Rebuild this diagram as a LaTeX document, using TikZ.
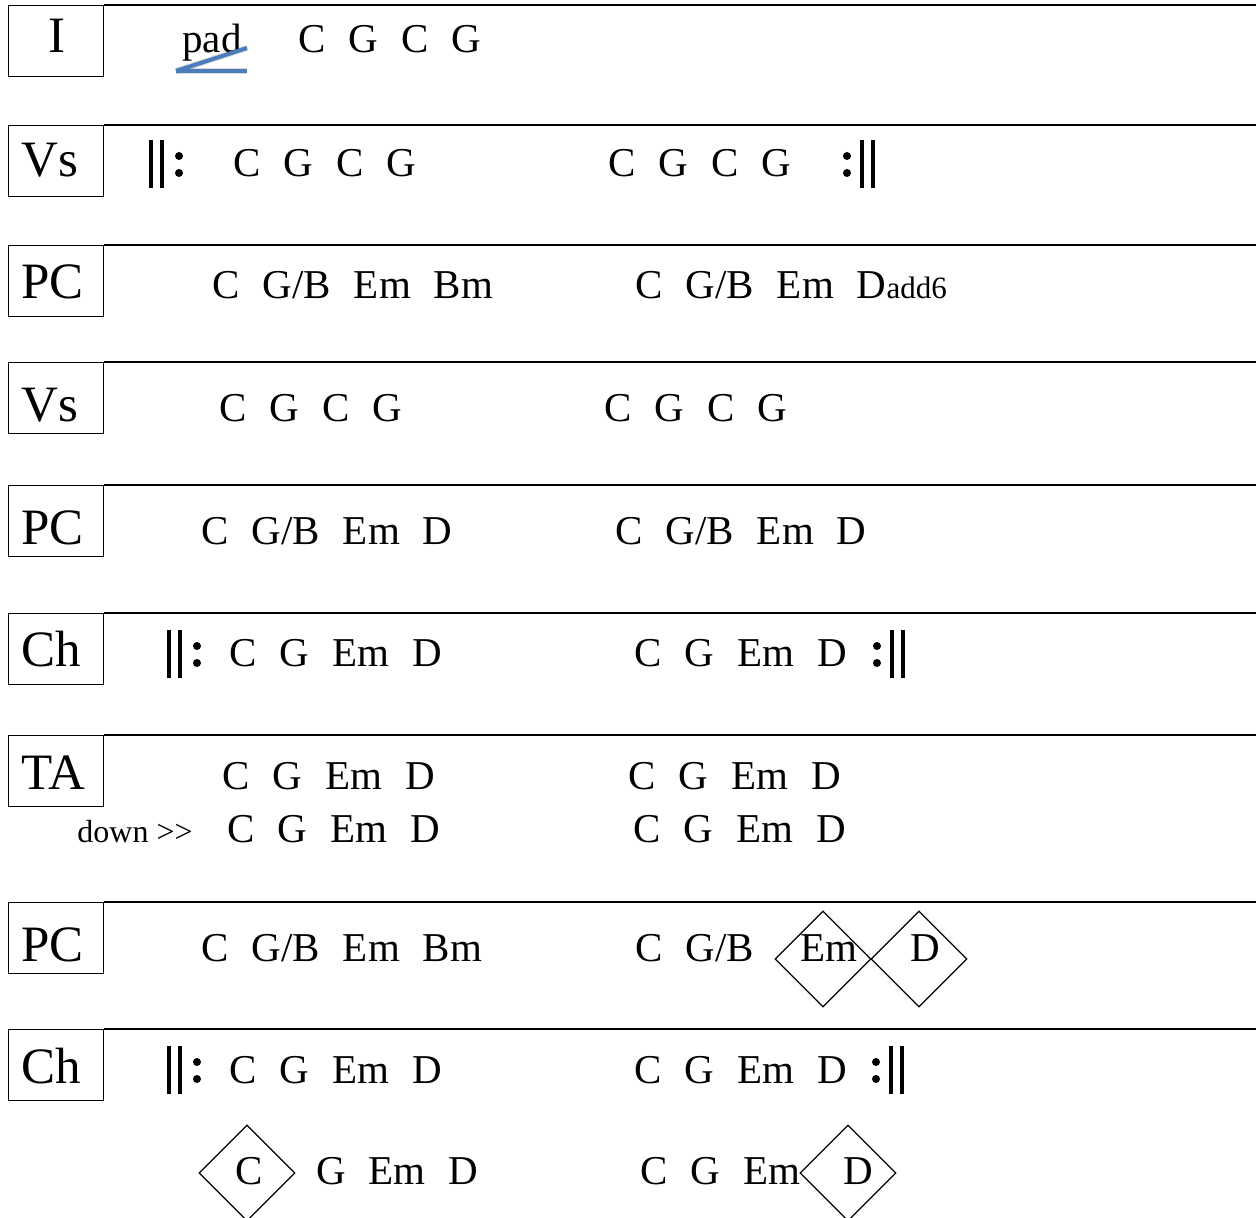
\documentclass[tikz,border=0pt]{standalone}
\usepackage{fontspec}
\setmainfont{Liberation Serif}
\usetikzlibrary{shapes.geometric}
\definecolor{padblue}{RGB}{74,126,187}

\begin{document}
\begin{tikzpicture}[x=0.5pt, y=-0.5pt]

        \def\gp{\hspace{0.56em}}

        % Looks of the section boxes, labels, chords and marks
        \tikzset{
            sect/.style={draw, line width=0.7pt, minimum width=47.5pt,
                minimum height=35.5pt, anchor=north west, inner sep=0pt},
            lab/.style={anchor=base west, inner sep=0pt,
                font=\fontsize{25.5pt}{30pt}\selectfont},
            chord/.style={anchor=base west, inner sep=0pt,
                font=\fontsize{20.5pt}{24pt}\selectfont},
            small/.style={anchor=base west, inner sep=0pt,
                font=\fontsize{16pt}{19pt}\selectfont},
            hit/.style={draw, diamond, line width=0.6pt, inner sep=0pt,
                minimum width=48pt, minimum height=48pt},
            rule/.style={line width=1pt},
            bar/.style={line width=1.8pt}
        }

        \useasboundingbox (0, 0) rectangle (1257, 1218);
        \clip (0, 0) rectangle (1257, 1218);

        % Section boxes, each with its rule to the right edge
        \foreach \name/\y in {I/5, Vs1/125, PC1/245, Vs2/362, PC2/485,
            Ch1/613, TA/735, PC3/902, Ch2/1029} {
            \node[sect] (\name) at (8, \y) {};
            \coordinate (\name-end) at (1256, \y);
            \draw[rule] (\name.north east) -- (\name-end);
        }

        % Section labels
        \node[lab] (lI) at (48, 53) {I};
        \node[lab] (lVs1) at (21, 177) {Vs};
        \node[lab] (lPC1) at (21, 299) {PC};
        \node[lab] (lVs2) at (21, 422) {Vs};
        \node[lab] (lPC2) at (21, 545) {PC};
        \node[lab] (lCh1) at (21, 667) {Ch};
        \node[lab] (lTA) at (21, 789) {TA};
        \node[lab] (lPC3) at (21, 961) {PC};
        \node[lab] (lCh2) at (21, 1083) {Ch};

        % Intro
        \node[chord] (pad) at (182, 53) {pad};
        \node[chord] (I-a) at (298, 53) {C\gp G\gp C\gp G};

        \coordinate (P1) at (247, 48);
        \coordinate (P2) at (176, 71);
        \coordinate (P3) at (247, 71);
        \begin{scope}[shift={(3, 6)}, line width=3pt, black, opacity=0.15]
            \draw (P1) -- (P2);
            \draw (P2) -- (P3);
        \end{scope}
        \begin{scope}[line width=2pt, padblue]
            \draw (P1) -- (P2);
            \draw (P2) -- (P3);
        \end{scope}

        % Verse and pre-chorus
        \node[chord] (Vs1-a) at (233, 177) {C\gp G\gp C\gp G};
        \node[chord] (Vs1-b) at (608, 177) {C\gp G\gp C\gp G};

        \node[chord] (PC1-a) at (212, 299) {C\gp G/B\gp Em\gp Bm};
        \node[chord] (PC1-b) at (635, 299)
            {C\gp G/B\gp Em\gp D{\fontsize{15.5pt}{18pt}\selectfont add6}};

        \node[chord] (Vs2-a) at (219, 422) {C\gp G\gp C\gp G};
        \node[chord] (Vs2-b) at (604, 422) {C\gp G\gp C\gp G};

        \node[chord] (PC2-a) at (201, 545) {C\gp G/B\gp Em\gp D};
        \node[chord] (PC2-b) at (615, 545) {C\gp G/B\gp Em\gp D};

        % Chorus and turnaround
        \node[chord] (Ch1-a) at (229, 667) {C\gp G\gp Em\gp D};
        \node[chord] (Ch1-b) at (634, 667) {C\gp G\gp Em\gp D};

        \node[chord] (TA-a) at (222, 789) {C\gp G\gp Em\gp D};
        \node[chord] (TA-b) at (628, 789) {C\gp G\gp Em\gp D};
        \node[small] (down) at (77, 842) {down >{}>};
        \node[chord] (TA-c) at (227, 842) {C\gp G\gp Em\gp D};
        \node[chord] (TA-d) at (633, 842) {C\gp G\gp Em\gp D};

        % Last pre-chorus and chorus, hits in diamonds
        \node[chord] (PC3-a) at (201, 961) {C\gp G/B\gp Em\gp Bm};
        \node[chord] (PC3-b) at (635, 961) {C\gp G/B};
        \node[chord] (PC3-c) at (800, 961) {Em};
        \node[chord] (PC3-d) at (910, 961) {D};
        \node[hit] (hEm) at (823, 959) {};
        \node[hit] (hD1) at (919, 959) {};

        \node[chord] (Ch2-a) at (229, 1083) {C\gp G\gp Em\gp D};
        \node[chord] (Ch2-b) at (634, 1083) {C\gp G\gp Em\gp D};

        \node[chord] (Ch2-c) at (235, 1184) {C};
        \node[chord] (Ch2-d) at (316, 1184) {G\gp Em\gp D};
        \node[chord] (Ch2-e) at (640, 1184) {C\gp G\gp Em};
        \node[chord] (Ch2-f) at (843, 1184) {D};
        \node[hit] (hC) at (247, 1173) {};
        \node[hit] (hD2) at (848, 1173) {};

        % Repeat signs, start
        \foreach \x/\y in {151/177, 169/667, 169/1083} {
            \draw[bar] (\x, \y - 37) -- (\x, \y + 11);
            \draw[bar] (\x + 11, \y - 37) -- (\x + 11, \y + 11);
            \fill (\x + 28, \y - 21) circle (2pt);
            \fill (\x + 28, \y - 4) circle (2pt);
        }

        % Repeat signs, end
        \foreach \x/\y in {847/177, 877/667, 876/1083} {
            \fill (\x, \y - 21) circle (2pt);
            \fill (\x, \y - 4) circle (2pt);
            \draw[bar] (\x + 15, \y - 37) -- (\x + 15, \y + 11);
            \draw[bar] (\x + 26, \y - 37) -- (\x + 26, \y + 11);
        }

\end{tikzpicture}
\end{document}
